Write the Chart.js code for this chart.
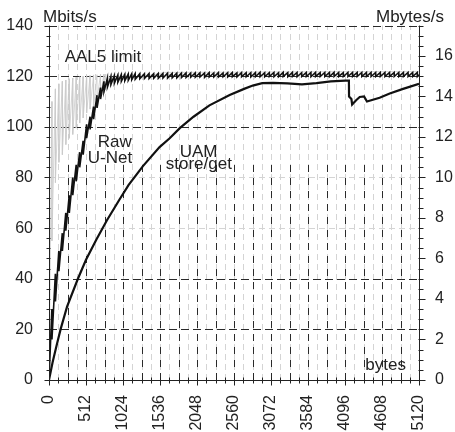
<!DOCTYPE html>
<html>
<head>
<meta charset="utf-8">
<script src="https://cdn.jsdelivr.net/npm/chart.js@4.4.1/dist/chart.umd.min.js"></script>
<style>
  html, body { margin: 0; padding: 0; background: #fff; }
  canvas { display: block; }
</style>
</head>
<body>
<canvas id="myChart" width="455" height="432"></canvas>
<script>
// tick labels
const byteTicks = [0, 512, 1024, 1536, 2048, 2560, 3072, 3584, 4096, 4608, 5120];
const mbitTicks = [0, 20, 40, 60, 80, 100, 120, 140];
const mbyteTicks = [0, 2, 4, 6, 8, 10, 12, 14, 16];

// AAL5 limit (grey sawtooth, one tooth per cell)
const aal5Bytes = [0, 40, 41, 88, 89, 136, 137, 184, 185, 232, 233, 280, 281, 328, 329, 376, 377,
  424, 425, 472, 473, 520, 521, 568, 569, 616, 617, 664, 665, 712, 713, 760, 761, 808, 809,
  856, 857, 904, 905, 952, 953, 1000, 1001, 1048, 1049, 1096, 1097, 1144, 1145, 1192, 1193,
  1600, 2400, 3200, 4000, 5120];
const aal5Mbits = [0, 110, 55, 115, 78, 117, 86, 118, 89, 118.5, 93, 119, 95.5, 119.3, 97, 119.6, 99.5,
  119.8, 101.5, 120, 103.5, 120.2, 105.5, 120.3, 107, 120.5, 108, 120.6, 110.5, 120.7, 112, 120.8, 113.5, 120.9, 115,
  121, 116, 121, 117, 121.1, 117.5, 121.2, 118, 121.2, 118.3, 121.3, 118.6, 121.3, 118.9, 121.4, 119.2,
  121.5, 121.6, 121.7, 121.8, 121.8];

// Raw U-Net
const rawBytes = [0, 40, 41, 88, 89, 136, 137, 184, 185, 232, 233, 280, 281, 328, 329, 376, 377,
  424, 425, 472, 473, 520, 521, 568, 569, 616, 617, 664, 665, 712, 713, 760, 761, 808, 809,
  856, 857, 904, 905, 952, 953, 1000, 1001, 1048, 1049, 1096, 1097, 1144, 1145, 1192, 1193,
  1256, 1257, 1320, 1321, 1384, 1385, 1448, 1449, 1512, 1513, 1576, 1577, 1640, 1641, 1704, 1705,
  1768, 1769, 1832, 1833, 1896, 1897, 1960, 1961, 2024, 2025, 2088, 2089, 2152, 2153, 2216, 2217,
  2280, 2281, 2344, 2345, 2408, 2409, 2472, 2473, 2536, 2537, 2600, 2601, 2664, 2665, 2728, 2729,
  2792, 2793, 2856, 2857, 2920, 2921, 2984, 2985, 3048, 3049, 3112, 3113, 3176, 3177, 3240, 3241,
  3304, 3305, 3368, 3369, 3432, 3433, 3496, 3497, 3560, 3561, 3624, 3625, 3688, 3689, 3752, 3753,
  3816, 3817, 3880, 3881, 3944, 3945, 4008, 4009, 4072, 4073, 4136, 4137, 4200, 4201, 4264, 4265,
  4328, 4329, 4392, 4393, 4456, 4457, 4520, 4521, 4584, 4585, 4648, 4649, 4712, 4713, 4776, 4777,
  4840, 4841, 4904, 4905, 4968, 4969, 5032, 5033, 5096, 5097, 5120];
const rawMbits = [0, 28, 16, 42, 31, 51, 43, 58, 51, 66, 59, 73, 66, 80, 73, 85, 78.5,
  90, 84, 94.5, 89, 101, 95.5, 104, 99, 108, 103, 112.5, 107.5, 115.5, 111, 118, 114, 119.2, 115.8,
  119.8, 116.8, 120.2, 117.3, 120.4, 117.7, 120.6, 118, 120.7, 118.2, 120.8, 118.4, 120.9, 118.6, 121, 118.8,
  121, 119, 121, 119.1, 121.1, 119.1, 121, 119.2, 121.1, 119.2, 121.1, 119.3, 121.2, 119.3, 121.1, 119.4,
  121.2, 119.4, 121.2, 119.5, 121.3, 119.5, 121.2, 119.6, 121.3, 119.6, 121.3, 119.7, 121.3, 119.6, 121.4, 119.7,
  121.3, 119.7, 121.4, 119.7, 121.3, 119.8, 121.4, 119.7, 121.4, 119.8, 121.3, 119.7, 121.4, 119.8, 121.4, 119.8,
  121.4, 119.7, 121.4, 119.8, 121.5, 119.8, 121.4, 119.8, 121.4, 119.9, 121.5, 119.8, 121.4, 119.8, 121.5, 119.9,
  121.4, 119.8, 121.5, 119.9, 121.5, 119.8, 121.4, 119.9, 121.5, 119.9, 121.5, 119.8, 121.5, 119.9, 121.4, 119.9,
  121.5, 119.9, 121.5, 119.8, 121.5, 119.9, 121.5, 119.9, 121.4, 119.9, 121.5, 119.9, 121.5, 119.9, 121.5, 119.9,
  121.5, 119.9, 121.5, 119.9, 121.5, 119.9, 121.5, 119.9, 121.5, 119.9, 121.5, 119.9, 121.5, 119.9, 121.5, 119.9,
  121.5, 119.9, 121.5, 119.9, 121.5, 119.9, 121.5, 119.9, 121.5, 119.9, 120.6];

// UAM store/get
const uamBytes = [0, 50, 100, 160, 250, 400, 512, 656, 800, 980, 1100, 1300, 1530, 1670, 1810, 2000,
  2220, 2500, 2700, 2820, 2950, 3100, 3300, 3500, 3700, 3900, 4100, 4150, 4152, 4185, 4195,
  4250, 4300, 4360, 4400, 4575, 4715, 4900, 5120];
const uamMbits = [0, 7, 13, 20, 29, 40, 47.5, 55.5, 63, 71.5, 77, 84.5, 92, 95.5, 99.5, 104,
  108.5, 112.6, 115, 116.3, 117.3, 117.4, 117.2, 116.8, 117.3, 118, 118.3, 118.3, 112, 111, 108.8,
  110.5, 111.8, 112, 110, 111.5, 113.2, 115, 117];

// grid rows
const darkRows = [20, 40, 100, 120, 140];
const lightRows = [60, 80];

const FONT = '"Liberation Sans", Arial, sans-serif';
const INK = '#222';

const notes = [
  { text: 'AAL5 limit', x: 217, y: 125.7 },
  { text: 'Raw', x: 674, y: 92.2 },
  { text: 'U-Net', x: 536, y: 85.8 },
  { text: 'UAM', x: 1809, y: 88.1 },
  { text: 'store/get', x: 1615, y: 83.2 }
];

function toPoints(xs, ys) {
  return xs.map((v, i) => ({ x: v, y: ys[i] }));
}

const gridAndAxes = {
  id: 'gridAndAxes',
  beforeDatasetsDraw(chart) {
    const ctx = chart.ctx, xs = chart.scales.x, ys = chart.scales.y;
    const { left, right, top, bottom } = chart.chartArea;
    ctx.save();
    ctx.lineWidth = 1;

    // light grid
    ctx.strokeStyle = '#d4d4d4';
    ctx.setLineDash([6, 4]);
    for (let v = 128; v < 5120; v += 128) {
      const px = Math.round(xs.getPixelForValue(v)) + 0.5;
      ctx.beginPath(); ctx.moveTo(px, bottom); ctx.lineTo(px, top); ctx.stroke();
    }
    lightRows.forEach(v => {
      const py = Math.round(ys.getPixelForValue(v)) + 0.5;
      ctx.beginPath(); ctx.moveTo(left, py); ctx.lineTo(right, py); ctx.stroke();
    });

    // dark vertical dashes, lower part only
    ctx.strokeStyle = '#2a2a2a';
    ctx.setLineDash([7, 6]);
    const yTop = ys.getPixelForValue(86);
    for (let v = 256; v < 5120; v += 256) {
      const px = Math.round(xs.getPixelForValue(v)) + 0.5;
      ctx.beginPath(); ctx.moveTo(px, bottom); ctx.lineTo(px, yTop); ctx.stroke();
    }
    ctx.setLineDash([8, 4]);
    darkRows.forEach(v => {
      const py = Math.round(ys.getPixelForValue(v)) + 0.5;
      ctx.beginPath(); ctx.moveTo(left, py); ctx.lineTo(right, py); ctx.stroke();
    });
    ctx.restore();
  },
  afterDraw(chart) {
    const ctx = chart.ctx, xs = chart.scales.x, ys = chart.scales.y, y2 = chart.scales.y2;
    const { left, right, top, bottom } = chart.chartArea;
    const L = Math.round(left) + 0.5, R = Math.round(right) + 0.5, B = Math.round(bottom) + 0.5;
    ctx.save();
    ctx.strokeStyle = INK;
    ctx.lineWidth = 1;
    ctx.setLineDash([]);
    ctx.beginPath();
    ctx.moveTo(L, top); ctx.lineTo(L, B); ctx.lineTo(R, B); ctx.lineTo(R, top);
    ctx.stroke();

    // left ticks every 4 Mbit/s
    for (let v = 0; v <= 140; v += 4) {
      const py = Math.round(ys.getPixelForValue(v)) + 0.5;
      const len = v % 20 === 0 ? 5 : 3;
      ctx.beginPath(); ctx.moveTo(L - len, py); ctx.lineTo(L + 1, py); ctx.stroke();
    }
    // right ticks every 0.5 MB/s
    for (let v = 0; v <= 17.5; v += 0.5) {
      const py = Math.round(y2.getPixelForValue(v)) + 0.5;
      const len = v % 2 === 0 ? 6 : 4;
      ctx.beginPath(); ctx.moveTo(R - 1, py); ctx.lineTo(R + len, py); ctx.stroke();
    }
    // bottom ticks every 128 bytes
    for (let v = 0; v <= 5120; v += 128) {
      const px = Math.round(xs.getPixelForValue(v)) + 0.5;
      const len = v % 512 === 0 ? 5 : 3;
      ctx.beginPath(); ctx.moveTo(px, B - 3); ctx.lineTo(px, B + len); ctx.stroke();
    }

    // axis titles
    ctx.fillStyle = INK;
    ctx.font = '17px ' + FONT;
    ctx.textBaseline = 'alphabetic';
    ctx.textAlign = 'left';
    ctx.fillText('Mbits/s', left - 6, top - 4);
    ctx.textAlign = 'right';
    ctx.fillText('Mbytes/s', 444, top - 4);
    ctx.fillText('bytes', right - 13, bottom - 10);

    // curve labels
    ctx.textAlign = 'left';
    notes.forEach(n => {
      ctx.fillText(n.text, xs.getPixelForValue(n.x), ys.getPixelForValue(n.y));
    });
    ctx.restore();
  }
};

const tickFont = { family: FONT, size: 16 };

new Chart(document.getElementById('myChart').getContext('2d'), {
  type: 'line',
  data: {
    datasets: [
      {
        label: 'UAM store/get',
        data: toPoints(uamBytes, uamMbits),
        borderColor: '#111',
        borderWidth: 2.2,
        pointRadius: 0,
        tension: 0,
        yAxisID: 'y'
      },
      {
        label: 'Raw U-Net',
        data: toPoints(rawBytes, rawMbits),
        borderColor: '#111',
        borderWidth: 1.6,
        pointRadius: 0,
        tension: 0,
        yAxisID: 'y'
      },
      {
        label: 'AAL5 limit',
        data: toPoints(aal5Bytes, aal5Mbits),
        borderColor: '#cacaca',
        borderWidth: 0.8,
        pointRadius: 0,
        tension: 0,
        yAxisID: 'y'
      }
    ]
  },
  options: {
    responsive: false,
    animation: false,
    devicePixelRatio: 1,
    layout: { padding: { top: 25, left: 0, right: 0, bottom: 0 } },
    plugins: {
      legend: { display: false },
      tooltip: { enabled: false },
      title: { display: false }
    },
    scales: {
      x: {
        type: 'linear',
        position: 'bottom',
        min: 0,
        max: 5120,
        afterBuildTicks: s => { s.ticks = byteTicks.map(v => ({ value: v })); },
        afterFit: s => { s.height = 52; },
        grid: { display: false, drawTicks: false },
        border: { display: false },
        ticks: {
          autoSkip: false,
          minRotation: 90,
          maxRotation: 90,
          padding: 15,
          color: INK,
          font: tickFont,
          callback: v => String(v)
        }
      },
      y: {
        type: 'linear',
        position: 'left',
        min: 0,
        max: 140,
        afterBuildTicks: s => { s.ticks = mbitTicks.map(v => ({ value: v })); },
        afterFit: s => { s.width = 49; },
        grid: { display: false, drawTicks: false },
        border: { display: false },
        ticks: { padding: 16, color: INK, font: tickFont, callback: v => String(v) }
      },
      y2: {
        type: 'linear',
        position: 'right',
        min: 0,
        max: 17.5,
        afterBuildTicks: s => { s.ticks = mbyteTicks.map(v => ({ value: v })); },
        afterFit: s => { s.width = 36; },
        grid: { display: false, drawTicks: false },
        border: { display: false },
        ticks: { padding: 16, color: INK, font: tickFont, callback: v => String(v) }
      }
    }
  },
  plugins: [gridAndAxes]
});
</script>
</body>
</html>
